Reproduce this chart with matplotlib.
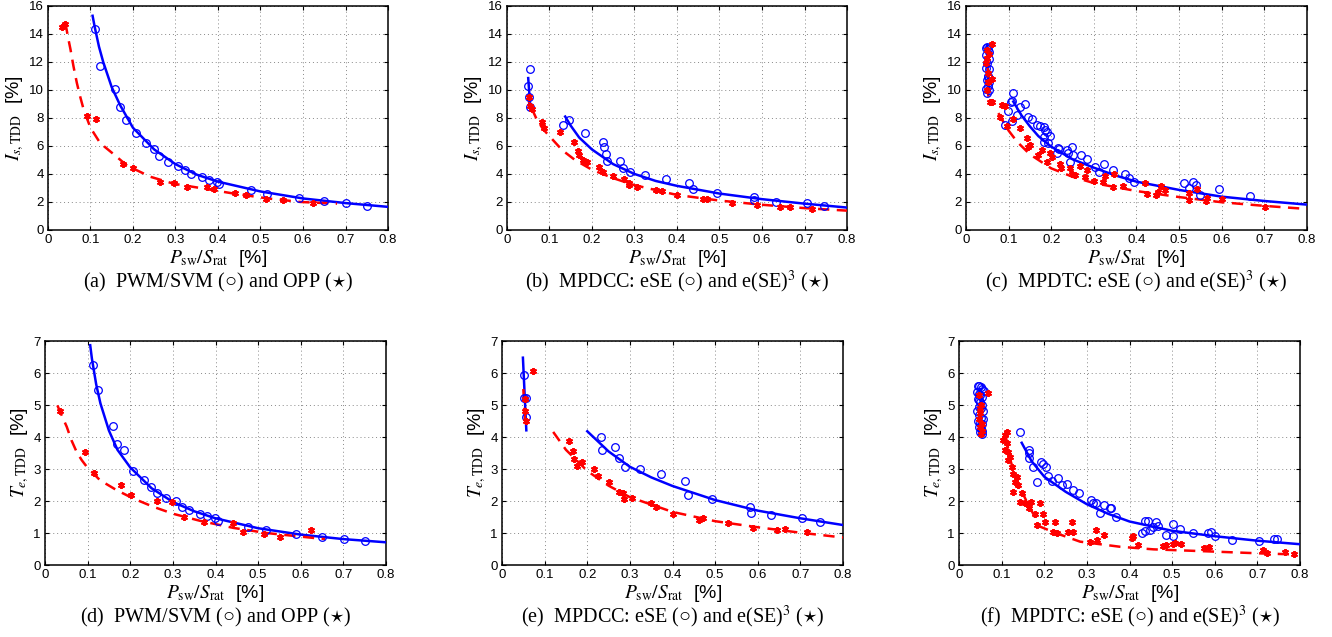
"""Switching-loss vs. TDD trade-off curves, six panels (a)-(f)."""
import matplotlib

matplotlib.use("Agg")
import matplotlib.pyplot as plt  # noqa: E402

plt.rcParams["font.family"] = ["Liberation Sans", "DejaVu Sans"]
plt.rcParams["mathtext.fontset"] = "stix"

BLUE = "#0000ff"
RED = "#ff0000"

# ---- (a) PWM/SVM vs OPP, current TDD ----
A_CIRC_X = [0.110, 0.123, 0.157, 0.169, 0.184, 0.207, 0.230, 0.249, 0.261, 0.283, 0.305, 0.322,
            0.337, 0.363, 0.379, 0.398, 0.403, 0.478, 0.515, 0.591, 0.649, 0.702, 0.751]
A_CIRC_Y = [14.36, 11.7, 10.1, 8.76, 7.86, 6.95, 6.24, 5.79, 5.29, 4.88, 4.57, 4.29,
            4.02, 3.81, 3.57, 3.45, 3.26, 2.86, 2.55, 2.26, 2.07, 1.90, 1.74]
A_STAR_X = [0.033, 0.039, 0.093, 0.113, 0.176, 0.200, 0.263, 0.297, 0.327, 0.375, 0.390,
            0.439, 0.466, 0.512, 0.553, 0.623]
A_STAR_Y = [14.5, 14.7, 8.14, 7.93, 4.71, 4.40, 3.40, 3.38, 3.10, 3.05, 2.95,
            2.62, 2.48, 2.19, 2.14, 1.95]
A_FIT_B_X = [0.105, 0.11, 0.12, 0.13, 0.15, 0.17, 0.2, 0.25, 0.3, 0.35, 0.4, 0.5, 0.6, 0.7, 0.8]
A_FIT_B_Y = [15.3, 14.5, 13.1, 12.0, 10.2, 8.9, 7.3, 5.75, 4.7, 3.95, 3.45, 2.75, 2.25, 1.92, 1.65]
A_FIT_R_X = [0.041, 0.047, 0.053, 0.06, 0.068, 0.076, 0.084, 0.1, 0.123, 0.155, 0.186, 0.241,
             0.296, 0.358, 0.437, 0.515, 0.594, 0.68]
A_FIT_R_Y = [14.8, 13.8, 12.9, 11.7, 10.5, 9.5, 8.6, 7.3, 6.2, 5.4, 4.6, 3.8,
             3.3, 3.0, 2.6, 2.26, 2.0, 1.88]

# ---- (b) MPDCC, current TDD ----
B_CIRC_X = [0.0548, 0.0485, 0.053, 0.0548, 0.131, 0.145, 0.184, 0.225, 0.229, 0.232, 0.235,
            0.265, 0.273, 0.290, 0.324, 0.373, 0.429, 0.437, 0.495, 0.581, 0.582, 0.632,
            0.705, 0.746]
B_CIRC_Y = [11.48, 10.29, 9.48, 8.81, 7.5, 7.86, 6.9, 6.26, 5.95, 5.43, 4.95,
            4.93, 4.45, 4.14, 3.93, 3.62, 3.33, 2.9, 2.67, 2.36, 2.14, 2.02,
            1.90, 1.71]
B_STAR_X = [0.051, 0.055, 0.060, 0.082, 0.088, 0.125, 0.157, 0.168, 0.170, 0.178, 0.188,
            0.216, 0.226, 0.250, 0.275, 0.286, 0.288, 0.305, 0.351, 0.364, 0.401, 0.462,
            0.470, 0.530, 0.589, 0.642, 0.667, 0.717]
B_STAR_Y = [9.48, 8.86, 8.67, 7.69, 7.31, 6.98, 6.26, 5.67, 5.36, 4.98, 4.83,
            4.52, 4.17, 3.88, 3.64, 3.33, 3.21, 3.10, 2.86, 2.76, 2.5, 2.21,
            2.19, 1.90, 1.76, 1.64, 1.62, 1.50]
B_FIT_B_X = [0.050, 0.055, None, 0.137, 0.15, 0.17, 0.2, 0.25, 0.3, 0.35, 0.4, 0.5, 0.6, 0.7, 0.8]
B_FIT_B_Y = [10.85, 8.76, None, 8.1, 7.45, 6.6, 5.75, 4.7, 4.0, 3.5, 3.15, 2.6, 2.2, 1.88, 1.6]
B_FIT_R_X = [0.050, 0.054, None, 0.058, 0.07, 0.085, 0.1, 0.13, 0.16, 0.2, 0.25, 0.3, 0.4,
             0.5, 0.6, 0.7, 0.8]
B_FIT_R_Y = [9.6, 8.7, None, 8.7, 7.9, 7.2, 6.7, 5.7, 5.0, 4.3, 3.7, 3.2, 2.5,
             2.1, 1.8, 1.56, 1.38]

# ---- (c) MPDTC, current TDD ----
C_CIRC_X = [0.047, 0.050, 0.052, 0.055, 0.048, 0.053, 0.050, 0.047, 0.055, 0.052, 0.049,
            0.054, 0.051, 0.048, 0.053, 0.050, 0.052,
            0.111, 0.105, 0.107, 0.098, 0.092, 0.109, 0.119, 0.127, 0.139, 0.146, 0.154,
            0.166, 0.174, 0.182, 0.186, 0.189, 0.196, 0.182, 0.182, 0.193, 0.217, 0.219,
            0.214, 0.236, 0.248, 0.240, 0.252, 0.243, 0.269, 0.283, 0.303, 0.324, 0.313,
            0.346, 0.372, 0.383, 0.395, 0.512, 0.523, 0.532, 0.540, 0.549, 0.593, 0.667]
C_CIRC_Y = [13.0, 13.1, 12.9, 12.7, 12.5, 12.2, 11.9, 11.6, 11.5, 11.0, 10.7,
            10.6, 10.3, 10.1, 10.0, 9.8, 10.9,
            9.81, 9.17, 9.2, 8.52, 7.5, 7.81, 8.21, 8.76, 9.0, 8.05, 7.9,
            7.5, 7.45, 7.38, 7.14, 6.98, 6.74, 6.67, 6.31, 6.19, 5.88, 5.79,
            5.48, 5.71, 5.95, 5.48, 5.36, 4.88, 5.36, 5.05, 4.52, 4.71, 4.17,
            4.29, 4.0, 3.69, 3.45, 3.33, 2.98, 3.40, 3.21, 2.5, 2.9, 2.43]
C_STAR_X = [0.062, 0.049, 0.049, 0.051, 0.060, 0.051, 0.050, 0.056, 0.062, 0.048, 0.053,
            0.084, 0.092, 0.080, 0.096, 0.111, 0.127, 0.143, 0.146, 0.150, 0.170, 0.178,
            0.198, 0.202, 0.190, 0.220, 0.222, 0.245, 0.248, 0.255, 0.268, 0.280, 0.283,
            0.300, 0.322, 0.327, 0.348, 0.345, 0.368, 0.421, 0.425, 0.447, 0.450, 0.458,
            0.466, 0.523, 0.523, 0.542, 0.562, 0.566, 0.600, 0.701]
C_STAR_Y = [13.26, 12.86, 12.31, 11.19, 10.76, 10.6, 10.0, 9.12, 9.12, 11.9, 12.6,
            8.9, 8.86, 8.1, 7.43, 7.9, 7.26, 6.55, 5.95, 6.07, 5.36, 5.74,
            5.52, 5.2, 4.88, 4.71, 4.45, 4.4, 4.0, 3.95, 4.57, 3.8, 4.29,
            3.52, 3.4, 3.83, 3.97, 3.1, 3.17, 3.33, 2.55, 2.5, 2.74, 3.14,
            2.86, 2.62, 2.14, 2.9, 2.1, 2.26, 2.19, 1.62]
C_FIT_B_X = [0.050, 0.052, None, 0.111, 0.13, 0.15, 0.17, 0.2, 0.25, 0.3, 0.35, 0.4, 0.5,
             0.6, 0.7, 0.8]
C_FIT_B_Y = [13.2, 9.7, None, 9.17, 8.2, 7.4, 6.7, 5.95, 5.05, 4.45, 3.9, 3.45, 2.86,
             2.38, 2.07, 1.81]
C_FIT_R_X = [0.050, 0.053, None, 0.076, 0.09, 0.1, 0.12, 0.15, 0.2, 0.25, 0.3, 0.4, 0.5,
             0.6, 0.7, 0.8]
C_FIT_R_Y = [13.0, 9.0, None, 8.35, 7.6, 7.1, 6.3, 5.4, 4.4, 3.8, 3.35, 2.78, 2.35,
             1.98, 1.72, 1.5]

# ---- (d) PWM/SVM vs OPP, torque TDD ----
D_CIRC_X = [0.112, 0.125, 0.159, 0.170, 0.186, 0.207, 0.232, 0.249, 0.262, 0.283, 0.307,
            0.321, 0.338, 0.364, 0.379, 0.399, 0.405, 0.477, 0.518, 0.588, 0.649, 0.701, 0.751]
D_CIRC_Y = [6.26, 5.46, 4.34, 3.78, 3.59, 2.94, 2.67, 2.45, 2.24, 2.08, 2.0,
            1.82, 1.72, 1.59, 1.54, 1.46, 1.37, 1.2, 1.09, 0.97, 0.88, 0.80, 0.75]
D_STAR_X = [0.035, 0.094, 0.116, 0.178, 0.201, 0.262, 0.297, 0.325, 0.373, 0.440, 0.465,
            0.514, 0.551, 0.623]
D_STAR_Y = [4.82, 3.54, 2.88, 2.50, 2.19, 2.0, 1.98, 1.49, 1.33, 1.3, 1.02,
            0.98, 0.88, 1.11]
D_FIT_B_X = [0.106, 0.11, 0.12, 0.13, 0.15, 0.17, 0.2, 0.25, 0.3, 0.35, 0.4, 0.5, 0.6, 0.7, 0.8]
D_FIT_B_Y = [6.87, 6.45, 5.65, 5.05, 4.2, 3.6, 3.05, 2.4, 1.97, 1.68, 1.46, 1.15, 0.95, 0.81, 0.71]
D_FIT_R_X = [0.029, 0.04, 0.051, 0.062, 0.074, 0.086, 0.098, 0.129, 0.168, 0.207, 0.254,
             0.301, 0.364, 0.442, 0.52, 0.598, 0.657]
D_FIT_R_Y = [4.99, 4.65, 4.32, 3.9, 3.54, 3.28, 3.07, 2.65, 2.34, 2.08, 1.82,
             1.6, 1.38, 1.16, 1.0, 0.89, 0.81]

# ---- (e) MPDCC, torque TDD ----
E_CIRC_X = [0.052, 0.052, 0.056, 0.056, 0.233, 0.235, 0.264, 0.274, 0.289, 0.323, 0.372,
            0.429, 0.436, 0.493, 0.581, 0.583, 0.630, 0.703, 0.745]
E_CIRC_Y = [5.95, 5.22, 5.22, 4.63, 4.01, 3.61, 3.69, 3.36, 3.07, 3.01, 2.83,
            2.62, 2.19, 2.05, 1.8, 1.63, 1.57, 1.48, 1.33]
E_STAR_X = [0.073, 0.053, 0.055, 0.057, 0.156, 0.167, 0.169, 0.177, 0.188, 0.215, 0.225,
            0.251, 0.274, 0.283, 0.286, 0.304, 0.350, 0.362, 0.401, 0.462, 0.472, 0.530,
            0.589, 0.645, 0.663, 0.716]
E_STAR_Y = [6.07, 5.18, 4.81, 4.5, 3.87, 3.57, 3.3, 3.09, 3.23, 2.99, 2.78,
            2.58, 2.29, 2.24, 2.05, 2.08, 1.95, 1.8, 1.61, 1.40, 1.46, 1.32,
            1.17, 1.09, 1.13, 1.02]
E_FIT_B_X = [0.049, 0.057, None, 0.2, 0.25, 0.3, 0.35, 0.4, 0.5, 0.6, 0.7, 0.8]
E_FIT_B_Y = [6.48, 4.21, None, 4.18, 3.55, 3.07, 2.74, 2.47, 2.03, 1.70, 1.46, 1.25]
E_FIT_R_X = [0.050, 0.054, None, 0.12, 0.15, 0.2, 0.25, 0.3, 0.4, 0.5, 0.6, 0.7, 0.8]
E_FIT_R_Y = [5.5, 4.5, None, 4.16, 3.6, 2.94, 2.48, 2.12, 1.66, 1.37, 1.18, 1.01, 0.86]

# ---- (f) MPDTC, torque TDD ----
F_CIRC_X = [0.045, 0.048, 0.052, 0.055, 0.043, 0.047, 0.050, 0.054, 0.058, 0.044, 0.049,
            0.053, 0.046, 0.051, 0.056, 0.043, 0.048, 0.052, 0.057, 0.045, 0.050, 0.054,
            0.047, 0.051, 0.055, 0.049, 0.053, 0.046,
            0.143, 0.163, 0.163, 0.163, 0.173, 0.182, 0.192, 0.198, 0.204, 0.208, 0.217,
            0.231, 0.241, 0.253, 0.268, 0.282, 0.309, 0.315, 0.321, 0.331, 0.340, 0.353,
            0.356, 0.368, 0.429, 0.436, 0.436, 0.444, 0.448, 0.456, 0.461, 0.467, 0.486,
            0.501, 0.503, 0.518, 0.550, 0.583, 0.590, 0.600, 0.641, 0.704, 0.739, 0.747]
F_CIRC_Y = [5.58, 5.6, 5.55, 5.5, 5.4, 5.35, 5.3, 5.25, 5.45, 5.2, 5.1,
            5.0, 4.95, 4.9, 4.8, 4.8, 4.7, 4.6, 4.55, 4.5, 4.45, 4.4,
            4.3, 4.25, 4.2, 4.15, 4.1, 5.15,
            4.15, 3.61, 3.49, 3.35, 3.07, 2.58, 3.23, 3.17, 3.07, 2.78, 2.63,
            2.71, 2.50, 2.53, 2.34, 2.24, 2.03, 1.95, 1.95, 1.63, 1.87, 1.77,
            1.79, 1.51, 0.99, 1.07, 1.37, 1.38, 1.09, 1.19, 1.34, 1.23, 0.94,
            1.28, 0.92, 1.13, 1.01, 1.01, 1.04, 0.92, 0.78, 0.76, 0.80, 0.80]
F_STAR_X = [0.048, 0.052, 0.050, 0.047, 0.053, 0.049, 0.055, 0.051, 0.068, 0.050,
            0.112, 0.108, 0.104, 0.112, 0.108, 0.116, 0.120, 0.114, 0.124, 0.127, 0.135,
            0.131, 0.139, 0.127, 0.147, 0.143, 0.155, 0.163, 0.169, 0.178, 0.182, 0.190,
            0.198, 0.202, 0.221, 0.229, 0.225, 0.256, 0.264, 0.268, 0.307, 0.323, 0.339,
            0.321, 0.405, 0.409, 0.421, 0.479, 0.486, 0.501, 0.507, 0.520, 0.575, 0.587,
            0.713, 0.722, 0.765, 0.785]
F_STAR_Y = [5.3, 5.0, 4.75, 4.55, 4.4, 4.3, 4.2, 4.1, 5.37, 4.9,
            4.16, 4.05, 3.9, 3.8, 3.59, 3.54, 3.38, 3.28, 3.07, 2.86, 2.76,
            2.6, 2.5, 2.29, 2.24, 1.98, 1.93, 1.77, 1.96, 1.61, 1.25, 1.93,
            1.59, 1.33, 1.02, 1.01, 1.33, 1.04, 1.33, 1.04, 0.73, 0.78, 0.94,
            1.09, 0.86, 0.9, 0.64, 0.59, 0.62, 0.65, 0.70, 0.65, 0.54, 0.57,
            0.47, 0.37, 0.42, 0.36]
F_FIT_B_X = [0.050, 0.052, None, 0.147, 0.17, 0.2, 0.25, 0.3, 0.35, 0.4, 0.5, 0.6, 0.7, 0.8]
F_FIT_B_Y = [5.5, 4.1, None, 3.82, 3.25, 2.76, 2.29, 1.9, 1.6, 1.36, 1.07, 0.9, 0.76, 0.65]
F_FIT_R_X = [0.048, 0.050, None, 0.11, 0.12, 0.13, 0.14, 0.16, 0.19, 0.229, 0.284, 0.378,
             0.456, 0.597, 0.714, 0.792]
F_FIT_R_Y = [5.5, 4.1, None, 4.0, 3.3, 2.85, 2.5, 1.95, 1.2, 0.99, 0.73, 0.57,
             0.49, 0.42, 0.36, 0.33]

IS_LABEL = r"$I_{s,\mathrm{TDD}}$  [%]"
TE_LABEL = r"$T_{e,\mathrm{TDD}}$  [%]"
X_LABEL = r"$P_{\mathrm{sw}}/S_{\mathrm{rat}}$  [%]"

PANELS = [
    # key, axes rect (left, bottom, width, height), ylabel, ymax, caption, data
    ("a", (0.0360, 0.639, 0.2553, 0.3516), IS_LABEL, 16,
     "(a)  PWM/SVM (\u25cb) and OPP ($\\star$)",
     (A_CIRC_X, A_CIRC_Y, A_STAR_X, A_STAR_Y, A_FIT_B_X, A_FIT_B_Y, A_FIT_R_X, A_FIT_R_Y)),
    ("b", (0.3806, 0.639, 0.2553, 0.3516), IS_LABEL, 16,
     "(b)  MPDCC: eSE (\u25cb) and e(SE)$^3$ ($\\star$)",
     (B_CIRC_X, B_CIRC_Y, B_STAR_X, B_STAR_Y, B_FIT_B_X, B_FIT_B_Y, B_FIT_R_X, B_FIT_R_Y)),
    ("c", (0.7252, 0.639, 0.2560, 0.3516), IS_LABEL, 16,
     "(c)  MPDTC: eSE (\u25cb) and e(SE)$^3$ ($\\star$)",
     (C_CIRC_X, C_CIRC_Y, C_STAR_X, C_STAR_Y, C_FIT_B_X, C_FIT_B_Y, C_FIT_R_X, C_FIT_R_Y)),
    ("d", (0.0338, 0.113, 0.2560, 0.3516), TE_LABEL, 7,
     "(d)  PWM/SVM (\u25cb) and OPP ($\\star$)",
     (D_CIRC_X, D_CIRC_Y, D_STAR_X, D_STAR_Y, D_FIT_B_X, D_FIT_B_Y, D_FIT_R_X, D_FIT_R_Y)),
    ("e", (0.3769, 0.113, 0.2560, 0.3516), TE_LABEL, 7,
     "(e)  MPDCC: eSE (\u25cb) and e(SE)$^3$ ($\\star$)",
     (E_CIRC_X, E_CIRC_Y, E_STAR_X, E_STAR_Y, E_FIT_B_X, E_FIT_B_Y, E_FIT_R_X, E_FIT_R_Y)),
    ("f", (0.7200, 0.113, 0.2560, 0.3516), TE_LABEL, 7,
     "(f)  MPDTC: eSE (\u25cb) and e(SE)$^3$ ($\\star$)",
     (F_CIRC_X, F_CIRC_Y, F_STAR_X, F_STAR_Y, F_FIT_B_X, F_FIT_B_Y, F_FIT_R_X, F_FIT_R_Y)),
]


def _nan(vals):
    return [float("nan") if v is None else v for v in vals]


def _panel(fig, rect, ylabel, ymax, caption, data):
    cx, cy, sx, sy, bx, by, rx, ry = data
    ax = fig.add_axes(rect)
    ax.plot(_nan(bx), _nan(by), color=BLUE, lw=1.8, zorder=3)
    ax.plot(_nan(rx), _nan(ry), color=RED, lw=1.8, ls=(0, (4.5, 3)), zorder=3)
    ax.plot(cx, cy, ls="none", marker="o", ms=5.5, mfc="none", mec=BLUE, mew=0.9, zorder=4)
    ax.plot(sx, sy, ls="none", marker=(6, 2, 0), ms=5, color=RED, mew=1.4, zorder=4)
    ax.set_xlim(0, 0.8)
    ax.set_ylim(0, ymax)
    ax.set_xticks([i / 10 for i in range(9)])
    ax.set_xticklabels(["0"] + [f"{i / 10:.1f}" for i in range(1, 9)])
    step = 2 if ymax > 10 else 1
    ax.set_yticks(list(range(0, ymax + 1, step)))
    ax.tick_params(direction="in", top=True, right=True, length=3, width=0.8,
                   labelsize=9.5, pad=3)
    ax.grid(True, ls=(0, (1, 3)), color="#888888", lw=0.7)
    for sp in ax.spines.values():
        sp.set_linewidth(1.1)
    ax.set_xlabel(X_LABEL, fontsize=14, labelpad=1)
    ax.set_ylabel(ylabel, fontsize=14, labelpad=2)
    left, bottom, width, _ = rect
    fig.text(left + width / 2, bottom - 0.082, caption, ha="center", va="center",
             fontsize=14.5, family=["Liberation Serif", "DejaVu Sans"])
    return ax


fig = plt.figure(figsize=(13.32, 6.37), dpi=100)
for _key, rect, ylabel, ymax, caption, data in PANELS:
    _panel(fig, rect, ylabel, ymax, caption, data)

fig.savefig("out.png", dpi=100)
